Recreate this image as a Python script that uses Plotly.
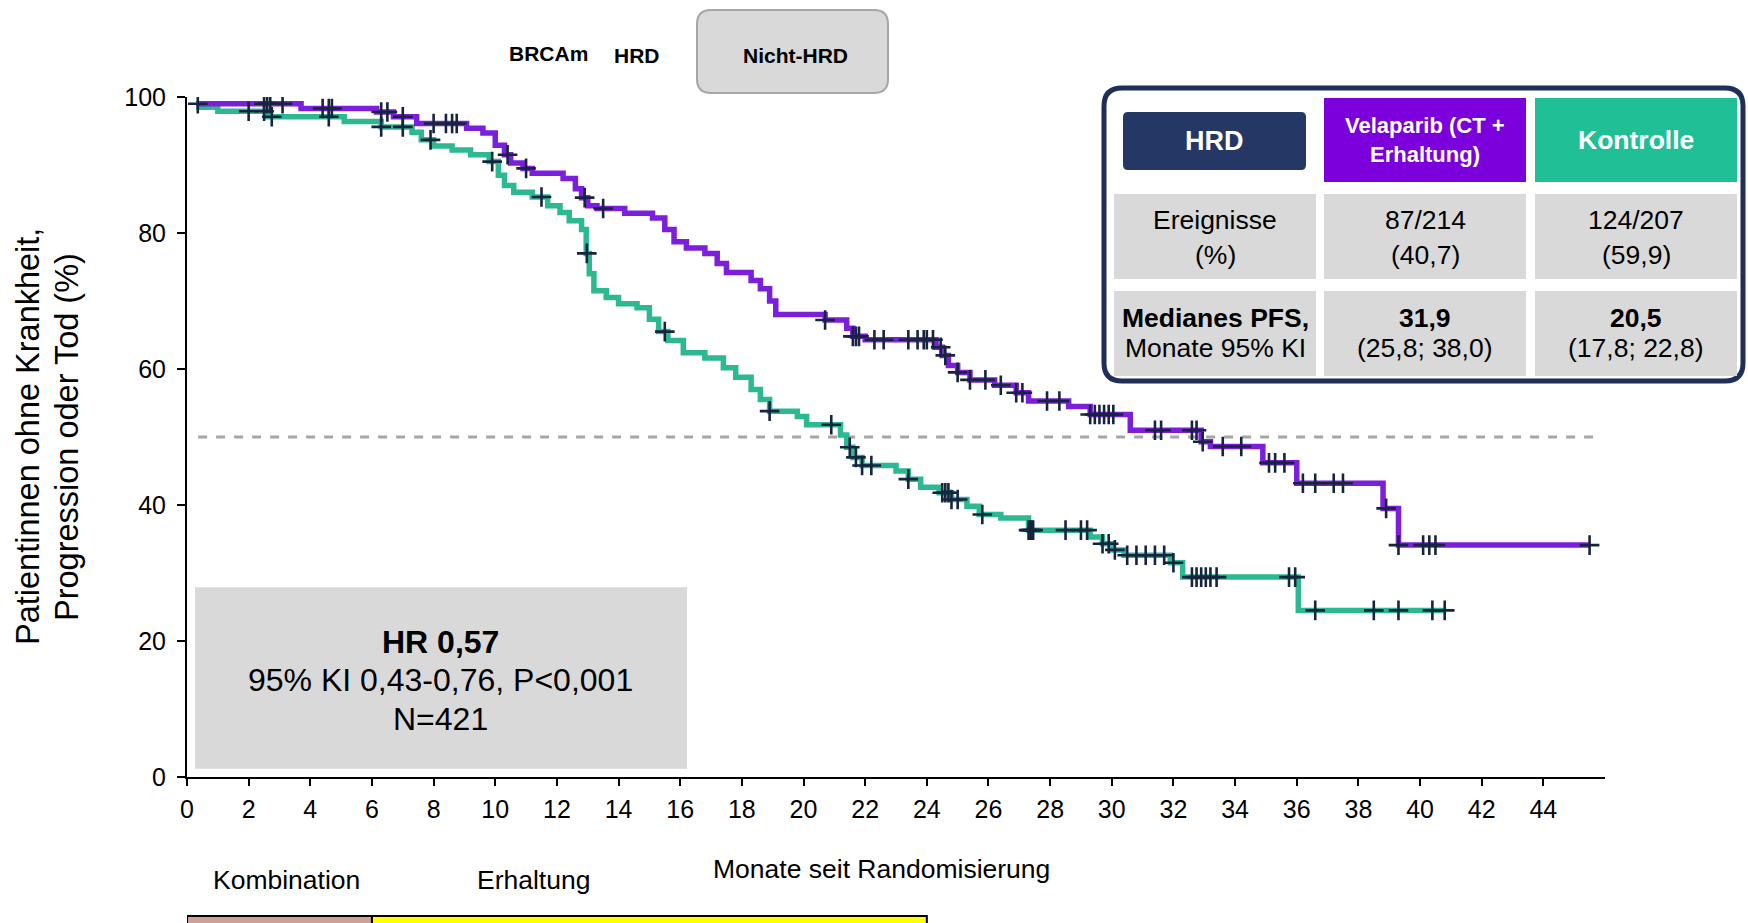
import bisect
import plotly.graph_objects as go

# ---------------- data ----------------
velaparib_t = [0.3, 3.7, 6.15, 6.7, 7.45, 9.07, 9.6, 10.0, 10.3, 10.5, 10.9, 11.2, 12.2, 12.6, 12.8, 13.0,
               13.3, 14.2, 15.1, 15.5, 15.8, 16.2, 16.8, 17.2, 17.5, 18.3, 18.6, 18.9, 19.1, 20.7, 21.4,
               21.6, 22.0, 24.3, 24.5, 24.7, 25.0, 25.4, 26.2, 26.9, 27.3, 28.6, 29.3, 30.6, 32.9, 33.2,
               34.9, 36.0, 38.8, 39.3, 45.5]
velaparib_s = [99.0, 98.3, 97.8, 97.1, 96.1, 95.4, 94.7, 92.9, 91.5, 90.3, 89.5, 88.8, 88.0, 86.5, 85.2, 84.0,
               83.6, 82.9, 82.2, 80.5, 78.7, 77.8, 77.0, 75.5, 74.2, 73.0, 71.8, 70.0, 68.0, 67.2, 66.0,
               64.8, 64.3, 63.2, 62.0, 60.5, 59.5, 58.4, 57.6, 56.5, 55.3, 54.5, 53.3, 51.0, 49.3, 48.6,
               46.2, 43.2, 39.5, 34.1, 34.1]
velaparib_censor = [0.35, 2.5, 2.6, 2.7, 3.1, 4.4, 4.6, 4.7, 6.3, 6.5, 7.0, 8.0, 8.4, 8.6, 8.75, 10.4, 11.0,
                    12.9, 13.5, 20.7, 21.6, 21.7, 21.8, 22.3, 22.6, 23.4, 23.7, 23.9, 24.0, 24.2, 24.45,
                    24.6, 25.0, 25.4, 25.9, 26.4, 26.9, 27.1, 27.9, 28.3, 29.3, 29.45, 29.6, 29.75, 29.9,
                    30.05, 31.4, 31.6, 32.6, 32.75, 32.95, 33.6, 34.2, 35.1, 35.3, 35.6, 36.2, 36.6, 37.2,
                    37.5, 38.9, 39.3, 40.1, 40.3, 40.5, 45.5]

kontrolle_t = [0.3, 1.0, 2.6, 5.1, 6.3, 7.3, 7.6, 8.0, 8.6, 9.2, 9.8, 10.1, 10.3, 10.6, 11.2, 11.7, 12.1,
               12.4, 12.8, 12.95, 13.05, 13.2, 13.6, 14.0, 14.6, 15.0, 15.3, 15.6, 16.1, 16.8, 17.4, 17.8,
               18.3, 18.6, 18.9, 19.8, 20.1, 21.2, 21.4, 21.6, 21.9, 23.0, 23.4, 23.8, 24.4, 24.8, 25.3,
               25.7, 26.4, 27.3, 29.3, 29.7, 30.0, 30.4, 31.9, 32.3, 36.05, 40.85]
kontrolle_s = [98.5, 97.9, 97.1, 96.4, 95.6, 94.8, 93.7, 92.8, 92.2, 91.5, 90.5, 88.5, 87.0, 86.0, 85.3,
               84.0, 83.0, 81.8, 80.5, 77.0, 74.0, 71.5, 70.5, 69.6, 69.0, 67.3, 65.5, 64.2, 62.4, 61.6,
               60.2, 58.8, 57.0, 55.5, 53.8, 53.0, 51.8, 50.3, 48.5, 47.0, 45.8, 45.0, 43.8, 42.6, 41.8,
               40.8, 39.8, 38.6, 38.1, 36.3, 35.3, 34.3, 33.4, 32.6, 31.5, 29.4, 24.5, 24.5]
kontrolle_censor = [2.0, 2.5, 2.75, 4.6, 6.3, 7.0, 7.9, 9.9, 11.5, 12.97, 15.5, 18.9, 20.9, 21.5, 21.7,
                    21.9, 22.2, 23.4, 24.5, 24.6, 24.7, 24.8, 25.0, 25.8, 27.3, 27.35, 27.4, 27.45, 28.5,
                    29.0, 29.2, 29.7, 29.9, 30.1, 30.5, 30.8, 31.1, 31.4, 31.7, 32.0, 32.6, 32.75, 32.9,
                    33.05, 33.2, 33.4, 35.75, 35.95, 36.6, 38.5, 39.3, 40.4, 40.8]

x_ticks = list(range(0, 46, 2))
y_ticks = [0, 20, 40, 60, 80, 100]
median_line = 50

hr_lines = ["<b>HR 0,57</b>", "95% KI 0,43-0,76, P<0,001", "N=421"]
table_header = ["HRD", "Velaparib (CT +", "Erhaltung)", "Kontrolle"]
table_row1 = [["Ereignisse", "(%)"], ["87/214", "(40,7)"], ["124/207", "(59,9)"]]
table_row2 = [["<b>Medianes PFS,</b>", "Monate 95% KI"], ["<b>31,9</b>", "(25,8; 38,0)"],
              ["<b>20,5</b>", "(17,8; 22,8)"]]

# ---------------- styling ----------------
PURPLE = "#7B1FDB"
GREEN = "#2CB991"
CENSOR = "#16243F"
NAVY = "#1F2F57"
FONT = "Liberation Sans, Arial, sans-serif"

W, H = 1748, 923
L, R, T, B = 187, 1605, 97, 777


def px(x):
    return (x - L) / (R - L)


def py(y):
    return (B - y) / (B - T)


def step_val(ts, ss, t):
    i = bisect.bisect_right(ts, t) - 1
    i = max(i, 0)
    return ss[i]


fig = go.Figure()
shapes = []
annotations = []

# HR box (data coordinates, behind curves)
shapes.append(dict(type="rect", xref="x", yref="y", x0=0.26, x1=16.22, y0=1.2, y1=27.9,
                   fillcolor="#D9D9D9", line=dict(width=0), layer="below"))

# median line
fig.add_trace(go.Scatter(x=[0.36, 45.9], y=[median_line, median_line], mode="lines",
                         line=dict(color="#A6A6A6", width=3, dash="dash"), hoverinfo="skip",
                         showlegend=False))

for ts, ss, col in [(kontrolle_t, kontrolle_s, GREEN), (velaparib_t, velaparib_s, PURPLE)]:
    fig.add_trace(go.Scatter(x=ts, y=ss, mode="lines", line=dict(color=col, width=5.5, shape="hv"),
                             showlegend=False))

for ts, ss, cens in [(kontrolle_t, kontrolle_s, kontrolle_censor),
                     (velaparib_t, velaparib_s, velaparib_censor)]:
    fig.add_trace(go.Scatter(x=cens, y=[step_val(ts, ss, c) for c in cens], mode="markers",
                             marker=dict(symbol="cross-thin", size=14,
                                         line=dict(color=CENSOR, width=2.6)),
                             showlegend=False))


def ann(text, x, y, size, bold=False, color="black", angle=0, xanchor="center"):
    annotations.append(dict(text=f"<b>{text}</b>" if bold else text, x=px(x), y=py(y),
                            xref="paper", yref="paper", showarrow=False, xanchor=xanchor,
                            yanchor="middle", textangle=angle,
                            font=dict(family=FONT, size=size, color=color)))


def rect(x0, y0, x1, y1, fill, line_color=None, lw=0, r=0):
    X0, X1, Y0, Y1 = px(x0), px(x1), py(y0), py(y1)
    if r == 0:
        shapes.append(dict(type="rect", xref="paper", yref="paper", x0=X0, x1=X1, y0=Y1, y1=Y0,
                           fillcolor=fill, line=dict(color=line_color or fill, width=lw)))
    else:
        rx = r / (R - L)
        ry = r / (B - T)
        path = (f"M {X0+rx},{Y0} L {X1-rx},{Y0} Q {X1},{Y0} {X1},{Y0-ry} "
                f"L {X1},{Y1+ry} Q {X1},{Y1} {X1-rx},{Y1} L {X0+rx},{Y1} Q {X0},{Y1} {X0},{Y1+ry} "
                f"L {X0},{Y0-ry} Q {X0},{Y0} {X0+rx},{Y0} Z")
        shapes.append(dict(type="path", xref="paper", yref="paper", path=path, fillcolor=fill,
                           line=dict(color=line_color or fill, width=lw)))


# HR text
for txt, yy in zip(hr_lines, [642, 680, 719]):
    ann(txt, 440, yy, 32)

# y-axis title (two lines)
ann("Patientinnen ohne Krankheit,", 28, 437, 32.5, angle=-90)
ann("Progression oder Tod (%)", 67, 437, 32.5, angle=-90)

# x-axis title and phase labels
ann("Monate seit Randomisierung", 881, 869, 26.5)
ann("Kombination", 286, 880, 26.5)
ann("Erhaltung", 533, 880, 26.5)

# top subgroup labels
ann("BRCAm", 548, 53, 21, bold=True)
ann("HRD", 637, 55, 21, bold=True)
rect(697, 10, 888, 93, "#D9D9D9", "#A6A6A6", 2, r=14)
ann("Nicht-HRD", 795, 55, 21, bold=True)

# table
rect(1104, 88, 1743, 381, "white", NAVY, 5, r=18)
rect(1123, 112, 1306, 170, "#253765", r=5)
rect(1324, 98, 1526, 182, "#7B00DC")
rect(1535, 98, 1737, 182, "#21BF95")
cols = [(1114, 1316), (1324, 1526), (1535, 1737)]
for (x0, x1) in cols:
    rect(x0, 194, x1, 279, "#D9D9D9")
    rect(x0, 291, x1, 376, "#D9D9D9")

ann(table_header[0], 1214, 141, 27, bold=True, color="white")
ann(table_header[1], 1425, 126, 22, bold=True, color="white")
ann(table_header[2], 1425, 154, 22, bold=True, color="white")
ann(table_header[3], 1636, 140, 26.5, bold=True, color="white")
for (x0, x1), (a, b) in zip(cols, table_row1):
    ann(a, (x0 + x1) / 2, 220, 26.5)
    ann(b, (x0 + x1) / 2, 255, 26.5)
for (x0, x1), (a, b) in zip(cols, table_row2):
    ann(a, (x0 + x1) / 2, 318, 26.5)
    ann(b, (x0 + x1) / 2, 348, 26.5)

# treatment phase bar
for x0, x1, col in [(0, 6, "#CDA193"), (6, 24, "#FFFF00")]:
    shapes.append(dict(type="rect", xref="x", yref="paper", x0=x0, x1=x1, y0=py(940), y1=py(916),
                       fillcolor=col, line=dict(color="black", width=2)))

fig.update_layout(
    width=W, height=H,
    margin=dict(l=L, r=W - R, t=T, b=H - B),
    paper_bgcolor="white", plot_bgcolor="white",
    showlegend=False,
    shapes=shapes, annotations=annotations,
    font=dict(family=FONT, color="black"),
    xaxis=dict(range=[0, 46], tickvals=x_ticks, ticktext=[str(v) for v in x_ticks],
               showgrid=False, zeroline=False, showline=True, linecolor="black", linewidth=2,
               ticks="outside", ticklen=7, tickwidth=2, tickcolor="black",
               tickfont=dict(size=25, family=FONT), ticklabelstandoff=2),
    yaxis=dict(range=[0, 100], tickvals=y_ticks, ticktext=[str(v) for v in y_ticks],
               showgrid=False, zeroline=False, showline=True, linecolor="black", linewidth=2,
               ticks="outside", ticklen=8, tickwidth=2, tickcolor="black",
               tickfont=dict(size=25, family=FONT), ticklabelstandoff=6),
)

fig.write_html("out.html")
